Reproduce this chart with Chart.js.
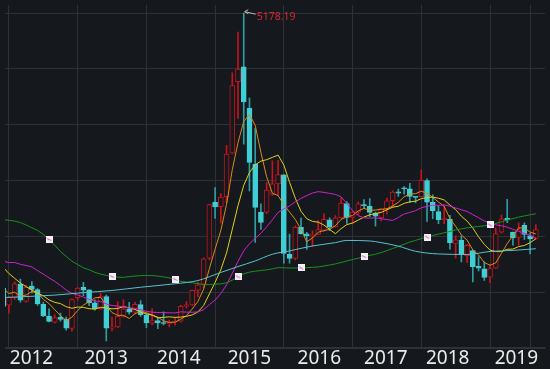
<!DOCTYPE html>
<html>
<head>
<meta charset="utf-8">
<script src="https://cdn.jsdelivr.net/npm/chart.js@4.4.0/dist/chart.umd.min.js"></script>
<style>
html,body{margin:0;padding:0;background:#15181d;overflow:hidden}
canvas{display:block}
</style>
</head>
<body>
<canvas id="c" width="550" height="369"></canvas>
<script>
// ---- categories (monthly candles) ----
const months = ['2011-12',
'2012-01','2012-02','2012-03','2012-04','2012-05','2012-06','2012-07','2012-08','2012-09','2012-10','2012-11','2012-12',
'2013-01','2013-02','2013-03','2013-04','2013-05','2013-06','2013-07','2013-08','2013-09','2013-10','2013-11','2013-12',
'2014-01','2014-02','2014-03','2014-04','2014-05','2014-06','2014-07','2014-08','2014-09','2014-10','2014-11','2014-12',
'2015-01','2015-02','2015-03','2015-04','2015-05','2015-06','2015-07','2015-08','2015-09','2015-10','2015-11','2015-12',
'2016-01','2016-02','2016-03','2016-04','2016-05','2016-06','2016-07','2016-08','2016-09','2016-10','2016-11','2016-12',
'2017-01','2017-02','2017-03','2017-04','2017-05','2017-06','2017-07','2017-08','2017-09','2017-10','2017-11','2017-12',
'2018-01','2018-02','2018-03','2018-04','2018-05','2018-06','2018-07','2018-08','2018-09','2018-10','2018-11','2018-12',
'2019-01','2019-02','2019-03','2019-04','2019-05','2019-06','2019-07','2019-08','2019-09'];

const open = [2386,
2212,2290,2427,2252,2407,2370,2220,2101,2041,2089,2069,1977,
2289,2394,2369,2236,2177,2301,1979,1993,2098,2175,2141,2219,
2112,2031,2056,2033,2022,2040,2050,2202,2215,2363,2424,2690,
3258,3212,3315,3756,4483,4633,4214,3643,3157,3156,3337,3445,
3536,2730,2688,3002,2936,2917,2932,2973,3079,3008,3099,3244,
3105,3158,3235,3216,3146,3100,3191,3274,3365,3403,3395,3310,
3314,3478,3258,3163,3081,3084,2841,2870,2716,2768,2608,2583,
2497,2588,2954,3095,2954,2902,3024,2916,2891];

const high = [2387,
2301,2451,2478,2417,2453,2381,2243,2176,2115,2132,2093,2276,
2394,2445,2371,2268,2334,2315,2092,2248,2270,2242,2243,2260,
2122,2177,2079,2146,2061,2087,2211,2248,2366,2447,2693,3239,
3406,3347,3835,4572,4986,5178.19,4317,4006,3243,3459,3678,3684,
3539,2934,3019,3097,2952,2968,3071,3140,3101,3122,3301,3265,
3173,3261,3285,3295,3158,3193,3301,3374,3392,3418,3450,3310,
3587,3495,3334,3220,3219,3124,2916,2916,2827,2771,2703,2654,
2618,2997,3129,3288,2955,3049,3048,2944,3030];

const low = [2134,
2132,2270,2242,2242,2337,2211,2096,2042,2029,2051,1959,1949,
2263,2310,2207,2162,2168,1849.65,1951,1985,2090,2122,2124,2099,
1985,2011,1974,2011,1991,2010,2041,2181,2210,2299,2388,2676,
3095,3049,3253,3748,4110,3847,3373,2850,2983,3143,3327,3327,
2638,2638,2673,2934,2780,2808,2931,2961,2969,3004,3093,3044,
3044,3133,3196,3111,3016,3069,3137,3206,3317,3340,3254,3254,
3314,3063,3091,3041,3041,2782,2691,2653,2644,2449,2560,2463,
2441,2587,2943,3051,2822,2823,2880,2733,2880];

const close = [2199.42,
2292.61,2428.49,2262.79,2396.32,2372.23,2225.43,2103.63,2047.52,2086.17,2068.88,1980.12,2269.13,
2385.42,2365.59,2236.62,2177.91,2300.59,1979.21,1993.80,2098.38,2174.67,2141.61,2220.50,2115.98,
2033.08,2056.30,2033.31,2026.36,2039.21,2048.33,2201.56,2217.20,2363.87,2420.18,2682.84,3234.68,
3210.36,3310.30,3747.90,4441.66,4611.74,4277.22,3663.73,3205.99,3052.78,3382.56,3445.41,3539.18,
2737.60,2687.98,3003.92,2938.32,2916.62,2929.61,2979.34,3085.49,3004.70,3100.49,3250.03,3103.64,
3159.17,3241.73,3222.51,3154.66,3117.18,3192.43,3273.03,3360.81,3348.94,3393.34,3317.19,3307.17,
3480.83,3259.41,3168.90,3082.23,3095.47,2847.42,2876.40,2725.25,2821.35,2602.78,2588.19,2493.90,
2584.57,2940.95,3090.76,3078.34,2898.70,2978.88,2932.51,2886.24,2980];

// ---- moving-average lines ----
const ma5 = [2385.5,
2330.6,2344.4,2303.3,2315.9,2350.5,2337.1,2272.1,2229.0,2167.0,2106.3,2057.3,2090.4,
2157.9,2213.8,2247.4,2286.9,2293.2,2212.0,2137.6,2110.0,2109.3,2077.5,2125.8,2150.2,
2137.2,2113.5,2091.8,2053.0,2037.7,2040.7,2069.8,2106.5,2174.0,2250.2,2377.1,2583.8,
2782.4,2971.7,3237.2,3589.0,3864.4,4077.8,4148.5,4040.1,3762.3,3516.5,3350.1,3325.2,
3231.5,3158.5,3082.8,2981.4,2856.9,2895.3,2953.6,2969.9,2983.2,3019.9,3084.0,3108.9,
3123.6,3171.0,3195.4,3176.3,3179.1,3185.7,3192.0,3219.6,3258.5,3313.7,3338.7,3345.5,
3369.5,3351.6,3306.7,3259.7,3217.4,3090.7,3014.1,2925.4,2873.2,2774.6,2722.8,2646.3,
2618.2,2642.1,2739.7,2837.7,2918.7,2997.5,2995.8,2954.9,2935.3];

const ma10 = [2597.5,
2533.9,2485.6,2437.5,2401.0,2368.0,2333.8,2308.3,2266.2,2241.5,2228.4,2197.2,2181.2,
2193.5,2190.4,2176.9,2172.1,2191.8,2185.0,2175.7,2178.7,2198.1,2185.4,2168.9,2143.9,
2123.6,2111.4,2084.7,2089.4,2093.9,2088.9,2091.6,2099.2,2113.5,2143.9,2208.9,2326.8,
2444.5,2572.9,2743.7,2983.1,3224.1,3430.1,3560.1,3638.6,3675.6,3690.4,3713.9,3736.8,
3635.8,3460.4,3299.6,3165.7,3091.0,3063.4,3056.1,3026.3,2982.3,2938.4,2989.7,3031.2,
3046.7,3077.1,3107.7,3130.2,3144.0,3154.7,3181.5,3207.5,3217.4,3246.4,3262.2,3268.7,
3294.6,3305.0,3310.2,3299.2,3281.4,3230.1,3182.8,3116.0,3066.4,2996.0,2906.7,2830.2,
2771.8,2757.6,2757.2,2780.2,2782.5,2807.8,2819.0,2847.3,2886.5];

const ma20 = [2660.0,
2645.0,2646.5,2627.8,2615.7,2601.5,2563.8,2528.0,2490.0,2454.7,2412.9,2365.5,2333.4,
2315.5,2295.7,2272.4,2253.0,2250.0,2225.6,2208.6,2203.5,2197.6,2183.3,2181.2,2167.2,
2150.2,2141.8,2138.2,2137.2,2134.8,2133.8,2144.9,2142.3,2141.2,2143.9,2166.2,2219.1,
2264.6,2331.1,2418.8,2536.0,2657.8,2764.6,2836.8,2891.3,2942.3,3008.6,3079.2,3154.8,
3189.8,3221.7,3261.9,3297.9,3325.5,3351.0,3365.8,3358.4,3348.1,3337.6,3312.7,3245.8,
3173.2,3121.4,3099.4,3096.8,3100.0,3090.5,3081.9,3073.0,3103.5,3138.8,3154.5,3172.9,
3201.1,3217.6,3227.1,3226.9,3231.5,3218.8,3200.1,3181.2,3164.3,3132.4,3100.6,3067.6,
3041.0,3028.4,3019.3,3005.2,2982.7,2961.9,2942.7,2921.7,2896.6];

const ma60 = [3082.7,
3074.5,3066.9,3051.6,3027.5,2998.5,2971.9,2932.5,2879.6,2821.9,2757.1,2708.9,2659.0,
2625.7,2592.7,2572.1,2546.8,2528.0,2515.3,2502.3,2497.3,2495.3,2502.2,2508.1,2513.0,
2513.7,2513.2,2507.6,2500.0,2490.1,2474.9,2454.8,2447.3,2440.3,2430.7,2422.2,2421.5,
2425.2,2429.5,2440.1,2466.3,2500.0,2531.3,2548.4,2557.9,2564.5,2571.2,2581.6,2593.8,
2592.9,2589.3,2590.6,2591.0,2593.9,2596.7,2601.3,2610.0,2620.7,2631.3,2646.5,2661.6,
2676.1,2689.6,2705.6,2718.3,2730.7,2746.8,2766.3,2788.2,2809.2,2831.3,2853.6,2870.9,
2889.1,2904.0,2919.6,2934.6,2947.9,2962.3,2977.0,2987.5,2998.2,3005.9,3012.0,3018.3,
3027.5,3042.3,3059.9,3077.5,3091.8,3107.3,3119.5,3130.6,3140.9];

const ma120Months = ['2011-12','2012-09','2013-02','2013-07','2013-12','2014-06','2014-10','2015-02','2015-05','2015-08','2015-11','2016-02','2016-06','2016-10','2016-12','2017-04','2017-06','2017-09','2017-12','2018-04','2018-09','2019-01','2019-05','2019-09'];
const ma120 = [2290,2315,2340,2362,2395,2430,2463,2545,2605,2662,2730,2764,2814,2848,2870,2865,2848,2812,2760,2733,2728,2758,2769,2786];

const markerMonths = ['2012-08','2013-07','2014-06','2015-05','2016-04','2017-03','2018-02','2019-01'];

// ---- axis ticks ----
const yearLabels = ['2012','2013','2014','2015','2016','2017','2018','2019'];
const yearLabelPos = [3.94,16.97,29.66,42.0,54.2,65.8,76.6,88.6];
const gridMonths = ['2012-01','2013-01','2014-01','2015-01','2016-01','2017-01','2018-01','2019-01','2019-08'];
const priceGrid = [5178.19,4611.4,4044.6,3477.8,2911.0,2344.2,1777.4];

// ---- styling ----
const BG = '#15181d', GRID = '#2e3136';
const UP = '#c4141d', DOWN = '#3fcfd5', DOWN_WICK = '#2f9ea4';
const X_MIN = -0.686, X_MAX = 93.6, Y_MIN = 1783.8, Y_MAX = 5261.3;

const mIdx = s => (parseInt(s.slice(0,4),10)-2012)*12 + parseInt(s.slice(5,7),10) - 1;
const isUp = i => close[i] >= open[i];

const markerImg = (() => {
  const c = document.createElement('canvas'); c.width = 7; c.height = 7;
  const g = c.getContext('2d');
  g.fillStyle = '#f2f2f2'; g.fillRect(0,0,7,7);
  g.strokeStyle = '#e03ae0'; g.lineWidth = 1;
  g.beginPath(); g.moveTo(1.5,2.5); g.lineTo(5.5,4.5); g.stroke();
  return c;
})();

const bgPlugin = {
  id: 'bg',
  beforeDraw(chart){ const c = chart.ctx; c.save(); c.fillStyle = BG; c.fillRect(0,0,chart.width,chart.height); c.restore(); }
};
const peakPlugin = {
  id: 'peak',
  afterDatasetsDraw(chart){
    const maxH = Math.max(...high); const i = high.indexOf(maxH);
    const px = chart.scales.x.getPixelForValue(mIdx(months[i]));
    const py = chart.scales.y.getPixelForValue(maxH);
    const c = chart.ctx; c.save();
    c.strokeStyle = '#b8b8b8'; c.lineWidth = 1;
    c.beginPath();
    c.moveTo(px+1, py-1.5); c.lineTo(px+12, py+1);
    c.moveTo(px+1, py-1.5); c.lineTo(px+4.5, py-3.5);
    c.moveTo(px+1, py-1.5); c.lineTo(px+4.5, py+0.5);
    c.stroke();
    c.fillStyle = '#d8262e'; c.font = '10.5px "Noto Sans"'; c.textBaseline = 'middle'; c.textAlign = 'left';
    c.fillText(maxH.toFixed(2), px+13, py+4);
    c.restore();
  }
};

const lineDs = (data, color, extra) => Object.assign({
  type: 'line', data, borderColor: color, borderWidth: 1, pointRadius: 0, tension: 0,
  xAxisID: 'x', yAxisID: 'y', order: 1
}, extra || {});

const perMonth = arr => months.map((m,i) => ({x: mIdx(m), y: arr[i]}));

new Chart(document.getElementById('c'), {
  type: 'bar',
  data: {
    datasets: [
      { type: 'bar', label: 'wick', data: months.map((m,i) => ({x: mIdx(m), y: [low[i], high[i]]})),
        backgroundColor: ctx => isUp(ctx.dataIndex) ? UP : DOWN_WICK,
        barThickness: 1, grouped: false, xAxisID: 'x', yAxisID: 'y', order: 3 },
      { type: 'bar', label: 'body', data: months.map((m,i) => ({x: mIdx(m), y: [open[i], close[i]]})),
        backgroundColor: ctx => isUp(ctx.dataIndex) ? BG : DOWN,
        borderColor: ctx => isUp(ctx.dataIndex) ? UP : DOWN,
        borderWidth: 1, borderSkipped: false, minBarLength: 1,
        barThickness: 5, grouped: false, xAxisID: 'x', yAxisID: 'y', order: 2 },
      lineDs(ma120Months.map((m,i)=>({x: mIdx(m), y: ma120[i]})), '#58c3cb', {cubicInterpolationMode: 'monotone'}),
      lineDs(perMonth(ma60), '#1b921b'),
      lineDs(perMonth(ma20), '#cf22cf'),
      lineDs(perMonth(ma10), '#e2d01e'),
      lineDs(perMonth(ma5), '#dc8a1c'),
      { type: 'line', data: markerMonths.map(m => ({x: mIdx(m), y: ma60[months.indexOf(m)]})),
        showLine: false, pointStyle: markerImg, pointRadius: 4, xAxisID: 'x', yAxisID: 'y', order: 0 }
    ]
  },
  options: {
    responsive: false, animation: false, devicePixelRatio: 1,
    layout: { padding: 0 },
    plugins: { legend: { display: false }, tooltip: { enabled: false } },
    scales: {
      x: { type: 'linear', position: 'bottom', min: X_MIN, max: X_MAX, offset: false,
        afterBuildTicks: ax => { ax.ticks = gridMonths.map(m => ({value: mIdx(m)})); },
        ticks: { display: false }, grid: { color: GRID, drawTicks: false, lineWidth: 1, offset: false },
        border: { display: true, color: GRID, width: 1 }, afterFit: ax => { ax.height = 0; } },
      xl: { type: 'linear', position: 'bottom', min: X_MIN, max: X_MAX, offset: false,
        afterBuildTicks: ax => { ax.ticks = yearLabelPos.map(v => ({value: v})); },
        ticks: { callback: (v, i) => yearLabels[i], color: '#ebebeb', font: { family: 'Noto Sans', size: 19 },
                 padding: 0, autoSkip: false, maxRotation: 0 },
        grid: { display: false, drawTicks: false }, border: { display: false },
        afterFit: ax => { ax.height = 21.6; } },
      y: { type: 'linear', min: Y_MIN, max: Y_MAX,
        afterBuildTicks: ax => { ax.ticks = priceGrid.map(v => ({value: v})); },
        ticks: { display: false }, grid: { color: GRID, drawTicks: false, lineWidth: 1 },
        border: { display: false }, afterFit: ax => { ax.width = 0; } }
    }
  },
  plugins: [bgPlugin, peakPlugin]
});
</script>
</body>
</html>
